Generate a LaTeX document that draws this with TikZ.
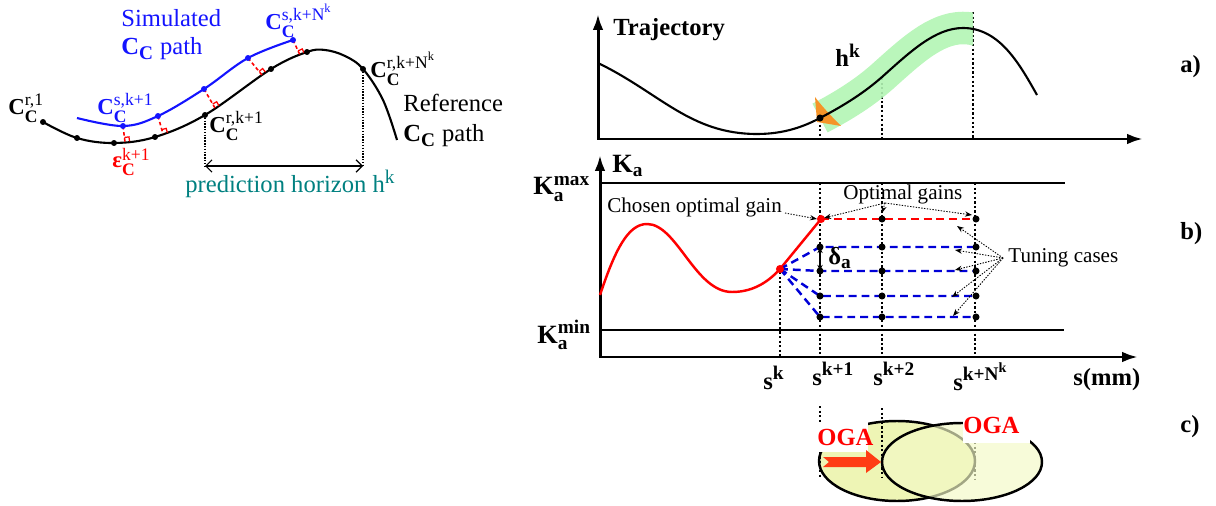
\documentclass[tikz,border=0pt]{standalone}
\usepackage{amsmath}
\usepackage{fontspec}
\setmainfont{Liberation Serif}
\usetikzlibrary{arrows.meta,calc}
\DeclareMathSizes{15}{15}{11}{8}
\DeclareMathSizes{14}{14}{11}{8}
\DeclareMathSizes{13}{13}{10}{7}
\definecolor{myblue}{RGB}{20,20,255}
\definecolor{dblue}{RGB}{0,0,215}
\definecolor{myred}{RGB}{255,0,0}
\definecolor{tealtxt}{RGB}{0,128,128}
\definecolor{bandgreen}{RGB}{178,245,180}
\definecolor{orng}{RGB}{245,148,40}
\definecolor{ellA}{RGB}{238,245,181}
\definecolor{ellB}{RGB}{243,249,198}
\definecolor{ogared}{RGB}{255,60,20}
\tikzset{
  axisline/.style={line width=1.7pt,{Latex[length=9pt,width=6pt]}-{Latex[length=9pt,width=6pt]}},
  curve/.style={line width=1.2pt},
  vdots/.style={line width=1.3pt,dash pattern=on 1.3pt off 1.3pt},
  thindots/.style={line width=0.6pt,dash pattern=on 0.8pt off 0.8pt},
  bdot/.style={circle,fill=black,inner sep=0pt,minimum size=4pt},
  ldot/.style={circle,fill=black,inner sep=0pt,minimum size=3.4pt},
  lbdot/.style={circle,fill=myblue,inner sep=0pt,minimum size=3.4pt},
  rdot/.style={circle,fill=myred,inner sep=0pt,minimum size=4.6pt},
  bdash/.style={dblue,line width=1.4pt,dash pattern=on 4.5pt off 2.8pt},
  rdash/.style={myred,line width=1.4pt,dash pattern=on 4.5pt off 2.8pt},
  ptr/.style={line width=0.5pt,dash pattern=on 0.8pt off 0.8pt,-{Stealth[length=4pt,width=3pt]}},
  lbl/.style={font=\fontsize{14}{16}\selectfont,inner sep=0pt,anchor=base west},
  klbl/.style={font=\fontsize{15}{17}\selectfont,inner sep=0pt,anchor=base west},
  slbl/.style={font=\fontsize{12}{14}\selectfont,inner sep=0pt,anchor=base west},
  clbl/.style={font=\fontsize{13}{15}\selectfont,inner sep=0pt,anchor=base west},
  rmark/.style={myred,line width=0.7pt},
  perp/.style={myred,line width=0.9pt,dash pattern=on 2pt off 1.5pt},
}
\newcommand\rtmark[2]{%
  \path ($(#1)!2.6pt!(#2)$) coordinate (rmA) ($(#1)!2.6pt!-90:(#2)$) coordinate (rmB);
  \draw[rmark] (rmA) -- ($(rmA)+(rmB)-(#1)$) -- (rmB);}
\begin{document}
\begin{tikzpicture}[x=0.02cm,y=-0.02cm]
\useasboundingbox (0,0) rectangle (1216,506);

% ================= left panel =================
\draw[curve] plot[smooth,tension=0.6] coordinates {(43,122) (77,138) (114,143) (155,137) (205,115) (271,69) (307,52) (325,50) (345,56) (363,69) (383,100) (397,140)};
\draw[curve,myblue] plot[smooth,tension=0.6] coordinates {(77,118) (123,126) (158,116) (204,89) (248,58) (293,40)};
\coordinate (b1) at (123,126); \coordinate (f1) at (125,142);
\coordinate (b2) at (158,116); \coordinate (f2) at (163,134);
\coordinate (b3) at (204,89);  \coordinate (f3) at (215,108);
\coordinate (b4) at (248,58);  \coordinate (f4) at (262,75);
\coordinate (b5) at (293,40);  \coordinate (f5) at (300,55);
\foreach \i in {1,...,5}{\draw[perp] (b\i) -- (f\i); \rtmark{f\i}{b\i}}
\foreach \p/\n in {(43,122)/r1,(77,138)/r2,(114,143)/r3,(155,137)/r4,(205,115)/r5,(271,69)/r6,(307,52)/r7,(363,69)/r8}
  \node[ldot] (\n) at \p {};
\foreach \i in {1,...,5} \node[lbdot] at (b\i) {};
\coordinate (d1) at (205,166); \coordinate (d2) at (363,166);
\draw[thindots] (r5.center) -- (d1);
\draw[thindots] (r8.center) -- (d2);
\draw[line width=0.7pt,{Straight Barb[length=3.5pt]}-{Straight Barb[length=3.5pt]}] (d1) -- (d2);

\node[clbl] (lr1) at (8,115) {$\textbf{C}_{\textbf{C}}^{\text{r,1}}$};
\node[clbl,myblue] (lsk) at (97,115) {$\textbf{C}_{\textbf{C}}^{\text{s,k+1}}$};
\node[clbl,myred] (leps) at (112,168) {$\textbf{ε}_{\textbf{C}}^{\text{k+1}}$};
\node[clbl] (lrk) at (209,133) {$\textbf{C}_{\textbf{C}}^{\text{r,k+1}}$};
\node[clbl,myblue] (lsN) at (265,30) {$\textbf{C}_{\textbf{C}}^{\text{s,k+N}^{\text{k}}}$};
\node[clbl] (lrN) at (370,78) {$\textbf{C}_{\textbf{C}}^{\text{r,k+N}^{\text{k}}}$};
\node[lbl] (lref) at (403,112) {Reference};
\node[lbl] (lrefp) at (403,142) {$\textbf{C}_{\textbf{C}}$ path};
\node[lbl,myblue] (lsim) at (121,27) {Simulated};
\node[lbl,myblue] (lsimp) at (121,55) {$\textbf{C}_{\textbf{C}}$ path};
\node[lbl,tealtxt] (lhor) at (185,193) {prediction horizon h$^{\text{k}}$};

% ================= panel a) =================
\draw[vdots] (820,120) -- (820,139);
\draw[vdots] (882,78) -- (882,139);
\draw[vdots] (973,12) -- (973,139);
\begin{scope}
  \clip (790,0) rectangle (973,160);
  \draw[bandgreen,line width=18.5pt,opacity=0.9] (820,118) .. controls (845,105) and (865,92) .. (882,77) .. controls (910,52) and (935,28) .. (963,28) .. controls (1000,28) and (1020,65) .. (1037,95);
\end{scope}
\fill[orng] (815,97) -- (817,122) -- (841,126) .. controls (830,115) and (820,104) .. cycle;
\draw[curve] (598,63) .. controls (660,93) and (690,134) .. (757,134) .. controls (785,134) and (805,126) .. (820,118) .. controls (845,105) and (865,92) .. (882,77) .. controls (910,52) and (935,28) .. (963,28) .. controls (1000,28) and (1020,65) .. (1037,95);
\node[bdot] (tdot) at (820,118) {};
\draw[axisline] (598,14) -- (598,139) -- (1143,139);
\node[lbl,font=\fontsize{14}{16}\selectfont\bfseries] (ltraj) at (613,36) {Trajectory};
\node[lbl] (lhk) at (835,67) {$\textbf{h}^{\textbf{k}}$};
\node[lbl,font=\fontsize{14}{16}\selectfont\bfseries] (la) at (1180,73) {a)};

% ================= panel b) =================
\draw[axisline] (600,155) -- (600,357) -- (1138,357);
\draw[line width=1.2pt] (600,183) -- (1065,183);
\draw[line width=1.2pt] (600,330) -- (1064,330);
\draw[vdots] (780,272) -- (780,357);
\draw[vdots] (820,183) -- (820,357);
\draw[vdots] (882,183) -- (882,357);
\draw[vdots] (975,183) -- (975,357);

\coordinate (sk) at (780,269);
\coordinate (g1) at (821,219);
\coordinate (g2) at (882,219);
\coordinate (g3) at (976,219);
\foreach \r/\y in {1/247,2/271,3/296,4/317}{
  \coordinate (t\r a) at (820,\y);
  \coordinate (t\r b) at (882,\y);
  \coordinate (t\r c) at (976,\y);
}
\draw[myred,line width=1.4pt] (600,295) .. controls (615,250) and (628,224) .. (647,224) .. controls (677,224) and (695,292) .. (732,292) .. controls (755,292) and (770,280) .. (sk);
\draw[myred,line width=1.4pt] (sk) -- (g1);
\draw[rdash] (g1) -- (g3);
\foreach \r in {1,...,4}{\draw[bdash] (sk) -- (t\r a) -- (t\r c);}
\foreach \r in {1,...,4}{\node[bdot] at (t\r a) {}; \node[bdot] at (t\r b) {}; \node[bdot] at (t\r c) {};}
\node[bdot] at (g2) {}; \node[bdot] at (g3) {};
\node[rdot] at (g1) {}; \node[rdot] at (sk) {};
\draw[line width=1pt,{Stealth[length=3.5pt,width=3pt]}-{Stealth[length=3.5pt,width=3pt]}] (t1a) -- (t2a);

\coordinate (cog) at (785,213);
\coordinate (og) at (885,203);
\coordinate (tc) at (1003,258);
\coordinate (og1) at (824,218);
\coordinate (og2) at (882,213);
\coordinate (og3) at (972,215);
\coordinate (tc1) at (957,226);
\coordinate (tc2) at (955,250);
\coordinate (tc3) at (955,270);
\coordinate (tc4) at (952,297);
\coordinate (tc5) at (953,316);
\draw[ptr] (cog) -- (817,219);
\foreach \t in {og1,og2,og3} \draw[ptr] (og) -- (\t);
\foreach \t in {tc1,tc2,tc3,tc4,tc5} \draw[ptr] (tc) -- (\t);

\node[slbl] (lchosen) at (607,213) {Chosen optimal gain};
\node[slbl] (lopt) at (843,200) {Optimal gains};
\node[slbl] (ltun) at (1008,263) {Tuning cases};
\node[lbl] (ldel) at (828,265) {$\textbf{δ}_{\textbf{a}}$};
\node[klbl] (lKa) at (612,173) {$\textbf{K}_{\textbf{a}}$};
\node[klbl] (lKmax) at (533,195) {$\textbf{K}_{\textbf{a}}^{\textbf{max}}$};
\node[klbl] (lKmin) at (537,343) {$\textbf{K}_{\textbf{a}}^{\textbf{min}}$};
\node[lbl] (ls0) at (763,389) {$\textbf{s}^{\textbf{k}}$};
\node[lbl] (ls1) at (812,385) {$\textbf{s}^{\textbf{k+1}}$};
\node[lbl] (ls2) at (873,385) {$\textbf{s}^{\textbf{k+2}}$};
\node[lbl] (ls3) at (953,390) {$\textbf{s}^{\textbf{k+N}^{\textbf{k}}}$};
\node[lbl,font=\fontsize{14}{16}\selectfont\bfseries] (lsmm) at (1073,385) {s(mm)};
\node[lbl,font=\fontsize{14}{16}\selectfont\bfseries] (lb) at (1180,240) {b)};

% ================= panel c) =================
\draw[line width=1.4pt,fill=ellA] (897,461) ellipse [x radius=1.56cm,y radius=0.8cm];
\draw[vdots] (975,410) -- (975,480);
\draw[line width=1.4pt,fill=ellB,fill opacity=0.67] (962,462) ellipse [x radius=1.6cm,y radius=0.78cm];
\draw[vdots] (820,406) -- (820,478);
\draw[vdots] (882,408) -- (882,477);
\fill[white] (815,422) rectangle (868,452);
\fill[white] (963,410) rectangle (1030,443);
\fill[ogared] (823,457) -- (866,457) -- (866,450) -- (881,462) -- (866,473) -- (866,467) -- (823,467) -- (829,462) -- cycle;
\node[lbl,font=\fontsize{14}{16}\selectfont\bfseries,myred] (loga1) at (817,445) {OGA};
\node[lbl,font=\fontsize{14}{16}\selectfont\bfseries,myred] (loga2) at (963,433) {OGA};
\node[lbl,font=\fontsize{14}{16}\selectfont\bfseries] (lc) at (1180,432) {c)};
\end{tikzpicture}
\end{document}
